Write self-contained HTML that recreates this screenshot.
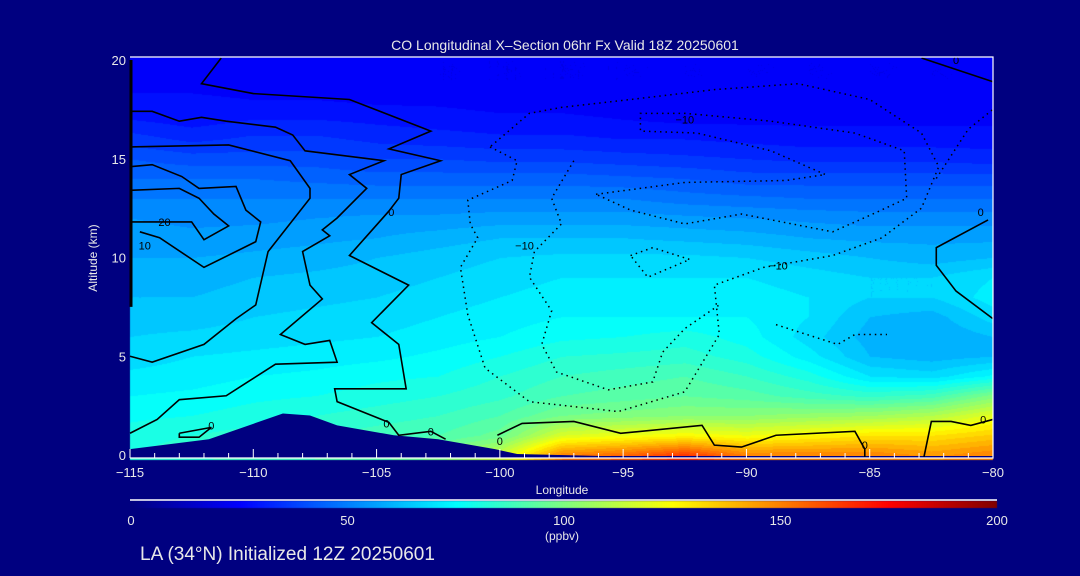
<!DOCTYPE html>
<html><head><meta charset="utf-8">
<style>
html,body{margin:0;padding:0;background:#000080;}
#wrap{position:relative;width:1080px;height:576px;background:#000080;overflow:hidden;font-family:"Liberation Sans",sans-serif;color:#e8e8e8;}
canvas{position:absolute;left:0;top:0;}
svg{position:absolute;left:0;top:0;}
</style></head>
<body>
<div id="wrap">
<canvas id="heat" width="1080" height="576"></canvas>
<svg id="ov" width="1080" height="576"></svg>
</div>
<script>
// ---- data ----
const lons = [-115,-112.5,-110,-107.5,-105,-102.5,-100,-97.5,-95,-92.5,-90,-87.5,-85,-82.5,-80];
const alts = [20,19,18,17,16,15,14,13,12,11,10,9,8,7,6,5,4,3,2,1,0];
const co = [
[22,22,22,22,22,22,22,22,22,22,22,22,22,22,22],
[24,24,23,23,23,22,22,22,22,22,22,22,22,22,22],
[27,27,26,26,25,25,24,24,23,23,23,23,23,23,23],
[30,28,30,30,29,28,27,27,26,25,25,25,25,25,25],
[36,33,35,35,33,32,31,31,30,30,29,28,28,28,28],
[42,40,40,40,38,38,37,37,36,35,34,33,33,33,32],
[46,46,46,45,44,44,44,44,43,42,40,40,40,40,40],
[50,50,50,50,50,50,50,50,50,48,47,46,46,46,46],
[54,53,53,54,55,55,56,56,56,55,54,53,52,52,52],
[56,55,56,57,58,60,62,62,62,61,60,58,57,57,57],
[58,58,59,60,62,64,66,67,67,67,66,64,62,60,62],
[60,60,62,63,64,66,68,70,70,70,70,68,66,66,70],
[62,62,64,65,66,68,70,72,72,72,72,70,66,66,72],
[64,64,66,67,68,70,72,74,74,74,74,70,62,60,68],
[66,67,68,69,70,72,74,77,78,80,76,68,60,58,62],
[68,70,71,72,73,75,78,82,83,84,80,72,62,60,62],
[71,72,74,75,77,78,82,86,88,90,86,80,70,68,75],
[74,75,77,78,80,82,85,90,92,94,92,88,85,88,100],
[77,78,80,82,84,86,90,98,100,102,102,104,106,110,120],
[80,82,84,86,88,90,96,118,122,125,122,126,130,130,135],
[82,85,88,90,92,100,115,150,155,165,150,150,150,145,150]
];
const terrainLon = [-115,-111.8,-108.8,-107.7,-106.6,-104.3,-102.5,-100.2,-99.3,-95.9,-90,-85,-80];
const terrainAlt = [0.3,0.8,2.1,2.0,1.5,1.0,0.8,0.3,0.05,-0.05,-0.05,-0.05,-0.05];
const xTicks = [-115,-110,-105,-100,-95,-90,-85,-80];
const xTickLabels = ["\u2212115","\u2212110","\u2212105","\u2212100","\u221295","\u221290","\u221285","\u221280"];
const yTicks = [0,5,10,15,20];
const cbTicks = [0,50,100,150,200];
const solidContours = [
 [[-111.3,20.1],[-112.1,18.8],[-110.0,18.3],[-106.1,18.0],[-102.8,16.4],[-104.5,15.5],[-102.4,14.9],[-104.0,14.2],[-104.1,13.0],[-104.5,12.35],[-106.1,10.1],[-103.7,8.6],[-105.2,6.7],[-104.1,5.6],[-103.8,3.35],[-106.7,3.35],[-106.6,2.7],[-104.5,1.65],[-104.1,1.0],[-102.8,1.2],[-102.2,0.8]],
 [[-115.0,17.4],[-114.1,17.4],[-113.0,16.9],[-112.1,17.1],[-111.1,16.9],[-109.1,16.6],[-108.4,16.2],[-107.9,15.4],[-104.7,14.9],[-106.1,14.2],[-105.4,13.5],[-106.6,12.0],[-107.2,11.4],[-106.9,11.1],[-108.0,10.3],[-107.7,8.6],[-107.2,7.9],[-108.9,6.1],[-107.9,5.6],[-106.9,5.8],[-106.6,4.7],[-109.1,4.6],[-111.1,3.0],[-113.0,2.8],[-113.9,1.8],[-115.0,1.1]],
 [[-115.0,15.6],[-111.0,15.7],[-108.5,14.9],[-107.7,13.5],[-107.7,13.0],[-109.4,10.3],[-109.9,7.6],[-110.7,6.9],[-112.0,5.6],[-114.1,4.7],[-115.0,5.0]],
 [[-115.0,14.6],[-114.1,14.7],[-112.9,14.1],[-112.2,13.5],[-110.7,13.6],[-110.3,12.4],[-109.7,11.8],[-109.9,10.8],[-112.0,9.5],[-113.8,11.0],[-114.6,11.3]],
 [[-115.0,13.4],[-113.0,13.5],[-112.2,13.0],[-111.6,12.2],[-111.0,11.6],[-112.0,10.9],[-112.5,11.8],[-113.5,11.8],[-115.0,11.8]],
 [[-80.2,11.9],[-82.3,10.5],[-82.3,9.6],[-81.5,8.3],[-80.0,6.9]],
 [[-82.9,20.1],[-80.0,18.9]],
 [[-100.1,1.0],[-99.1,1.6],[-97.0,1.7],[-95.1,1.1],[-91.8,1.5],[-91.3,0.5],[-90.2,0.4],[-88.8,1.0],[-85.6,1.2],[-85.2,0.3],[-85.2,-0.1]],
 [[-82.8,-0.1],[-82.5,1.7],[-81.7,1.7],[-80.9,1.5],[-80.0,1.8]],
 [[-113.0,1.1],[-111.7,1.4],[-112.2,0.9],[-113.0,0.9],[-113.0,1.1]]
];
const dottedContours = [
 [[-100.4,15.6],[-99.3,14.9],[-99.5,13.9],[-101.3,12.9],[-101.2,11.7],[-100.9,11.0],[-101.6,9.5],[-101.3,7.1],[-100.6,4.4],[-98.8,2.7],[-95.2,2.2],[-92.5,3.2],[-91.1,6.1],[-91.3,8.6],[-89.3,9.5],[-86.5,10.1],[-84.5,11.0],[-82.9,12.5],[-82.2,14.6],[-82.9,16.3],[-85.0,18.0],[-87.9,18.8],[-91.3,18.5],[-94.7,18.0],[-97.5,17.6],[-98.8,17.3],[-100.4,15.6]],
 [[-97.0,14.9],[-97.9,13.0],[-97.5,11.7],[-98.6,10.3],[-98.8,9.0],[-97.9,7.3],[-98.3,5.6],[-97.7,4.2],[-95.6,3.3],[-93.8,3.7],[-93.4,5.2],[-92.5,6.4],[-91.1,7.6]],
 [[-96.1,13.2],[-92.5,13.8],[-88.4,13.9],[-86.8,14.2],[-89.0,15.4],[-92.0,16.3],[-94.3,16.4],[-94.3,17.3],[-92.5,17.3],[-89.0,16.9],[-85.6,16.3],[-83.6,15.4],[-83.5,13.0],[-84.7,12.3],[-86.5,11.3],[-90.2,12.2],[-92.5,11.7],[-94.7,12.4],[-96.1,13.2]],
 [[-94.7,10.1],[-93.8,10.5],[-92.3,9.9],[-94.0,9.0],[-94.7,10.1]],
 [[-88.8,6.6],[-86.3,5.6],[-85.6,6.1],[-84.3,6.1]],
 [[-82.3,14.0],[-81.0,16.5],[-80.0,17.5]]
];
const contourLabels = [["20",-113.6,11.8],["10",-114.4,10.6],["0",-104.4,12.3],["0",-104.6,1.6],["0",-102.8,1.2],["0",-100.0,0.7],["0",-85.2,0.5],["0",-80.4,1.8],["0",-111.7,1.5],["\u221210",-92.5,17.0],["\u221210",-99.0,10.6],["\u221210",-88.7,9.6],["0",-80.5,12.3],["0",-81.5,20.0]];

// ---- axes ----
const X0=130,X1=993,Y0=455,Y20=60;
const sx = lon => X0 + (lon+115)/35*(X1-X0);
const sy = a => Y0 - a/20*(Y0-Y20);
const CB0=131,CB1=997;
const scb = v => CB0 + v/200*(CB1-CB0);

function jet(v){
  let t=Math.max(0,Math.min(1,v/200));
  const f=(x)=>Math.max(0,Math.min(1,x));
  const r=f(Math.min(4*t-1.5,-4*t+4.5));
  const g=f(Math.min(4*t-0.5,-4*t+3.5));
  const b=f(Math.min(4*t+0.5,-4*t+2.5));
  return [r*255,g*255,b*255];
}
function sample(lon,alt){
  let fi=(lon-lons[0])/(lons[1]-lons[0]);
  fi=Math.max(0,Math.min(lons.length-1.0001,fi));
  let ai=(alts[0]-alt)/(alts[0]-alts[1]);
  ai=Math.max(0,Math.min(alts.length-1.0001,ai));
  const i=Math.floor(fi),j=Math.floor(ai),u=fi-i,w=ai-j;
  return co[j][i]*(1-u)*(1-w)+co[j][i+1]*u*(1-w)+co[j+1][i]*(1-u)*w+co[j+1][i+1]*u*w;
}
const cv=document.getElementById('heat'),ctx=cv.getContext('2d');
const img=ctx.createImageData(X1-X0,460-57);
for(let py=57;py<460;py++){
  for(let px=X0;px<X1;px++){
    const lon=-115+(px-X0)/(X1-X0)*35, alt=(Y0-py)/(Y0-Y20)*20;
    let v=sample(lon,Math.max(0,Math.min(20,alt)));
    v=Math.round(v/4)*4;
    const c=jet(v);
    const k=((py-57)*(X1-X0)+(px-X0))*4;
    img.data[k]=c[0];img.data[k+1]=c[1];img.data[k+2]=c[2];img.data[k+3]=255;
  }
}
ctx.putImageData(img,X0,57);
for(let x=CB0;x<CB1;x++){
  const c=jet((x-CB0)/(CB1-CB0)*200);
  ctx.fillStyle=`rgb(${c[0]|0},${c[1]|0},${c[2]|0})`;
  ctx.fillRect(x,501,1,7);
}

const NS='http://www.w3.org/2000/svg';
const ov=document.getElementById('ov');
function mk(tag,attrs,parent){const e=document.createElementNS(NS,tag);for(const k in attrs)e.setAttribute(k,attrs[k]);(parent||ov).appendChild(e);return e;}
function txt(s,x,y,size,anchor,extra){const e=mk('text',Object.assign({x:x,y:y,'font-size':size,'text-anchor':anchor||'middle',fill:'#e8e8e8','font-family':'Liberation Sans, sans-serif'},extra||{}));e.textContent=s;return e;}

let tp=terrainLon.map((l,i)=>sx(l)+','+sy(terrainAlt[i])).join(' ');
tp+=' '+sx(-80)+',458 '+sx(-115)+',458';
const terr=mk('polygon',{points:tp,fill:'#000080'});



solidContours.forEach(c=>{
  const p=mk('polyline',{points:c.map(q=>sx(q[0])+','+sy(q[1])).join(' '),fill:'none',stroke:'#000','stroke-width':1.6});
  
  
});
dottedContours.forEach(c=>{
  const p=mk('polyline',{points:c.map(q=>sx(q[0])+','+sy(q[1])).join(' '),fill:'none',stroke:'#000','stroke-width':1.5,'stroke-dasharray':'1.5 4'});
  
  
});
const edge=mk('line',{x1:X0+1,y1:sy(20),x2:X0+1,y2:sy(7.5),stroke:'#000','stroke-width':3});


contourLabels.forEach(l=>{
  const t=txt(l[0],sx(l[1]),sy(l[2])+4,11,'middle',{fill:'#000'});
  
  
});

const fr=mk('polyline',{points:`${X0},57 ${X1},57 ${X1},458 ${X0},458`,fill:'none',stroke:'#fff','stroke-width':1.2});


for(let l=-115;l<=-80;l++){
  const major=xTicks.includes(l);
  const t=mk('line',{x1:sx(l),x2:sx(l),y1:458,y2:major?449:453,stroke:'#fff','stroke-width':1});
  
  
}
xTicks.forEach((l,i)=>{
  const t=txt(xTickLabels[i],sx(l),477,13);
  
  
});
yTicks.forEach(a=>{
  const t=txt(String(a),126,sy(a)+5,13,'end');
  
  
});
const t1=txt('CO Longitudinal X\u2013Section 06hr  Fx Valid 18Z 20250601',565,50,14);

const t2=txt('Longitude',562,494,12);

const t3=txt('Altitude (km)',97,258,12,'middle',{transform:'rotate(-90 97 258)'});

const cbl=mk('line',{x1:130,x2:997,y1:500,y2:500,stroke:'#fff','stroke-width':1.5});

cbTicks.forEach(v=>{
  const t=txt(String(v),scb(v),525,13);
  
  
});
const t4=txt('(ppbv)',562,540,12);

const t5=txt('LA (34\u00b0N) Initialized 12Z 20250601',140,560,19,'start');

</script>
</body></html>
